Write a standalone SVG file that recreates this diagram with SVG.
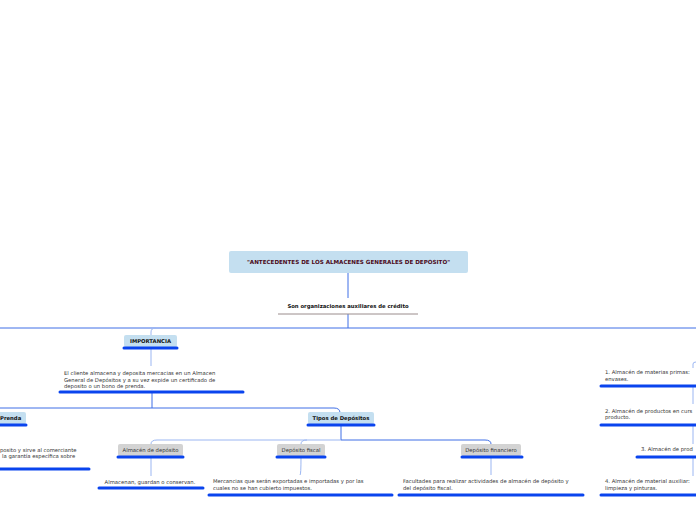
<svg xmlns="http://www.w3.org/2000/svg" width="696" height="520" viewBox="0 0 696 520">
<style>
text{font-family:"DejaVu Sans","Liberation Sans",sans-serif;font-size:5.3px;fill:#333}
.b{font-weight:bold;fill:#111}
.blue{fill:#c4dff0}
.gray{fill:#d3d3d3}
.ul{stroke:#0a44ee;stroke-width:3;stroke-linecap:round}
.c{fill:none;stroke:#3f6fe6;stroke-width:1}
.cl{fill:none;stroke:#9bb6f2;stroke-width:1}
</style>
<rect width="696" height="520" fill="#fff"/>
<g id="connectors">
<path class="c" d="M348 273V298M348 314V328M0 328H696"/>
<path class="cl" d="M151 335V332Q151 328 156 328M151 348V366"/>
<path class="c" d="M152 392V408M0 408H334Q340 408 340 413"/>
<path class="c" d="M341 425V440H485Q491 440 491 444"/>
<path class="cl" d="M341 440H157Q151 440 151 444M301 444Q301 440 307 440M151 457V476M301 457Q301 475 300 475M491 457V475"/>
<path class="cl" d="M693 368V364Q693 362 696 362M693 386V404M693 425V444M693 457V476"/>
</g>
<g id="root"><rect class="blue" x="229" y="251" width="239" height="22" rx="2"/><text class="b" x="348.5" y="264" text-anchor="middle" style="fill:#4a0a1a;font-size:5.6px">"ANTECEDENTES DE LOS ALMACENES GENERALES DE DEPOSITO"</text></g>
<g id="sub"><text class="b" x="348" y="308" text-anchor="middle">Son organizaciones auxiliares de crédito</text><line x1="278" y1="314" x2="418" y2="314" stroke="#9a8c8c" stroke-width="1"/></g>
<g id="importancia"><rect class="blue" x="124" y="335" width="53" height="12" rx="2"/><text class="b" x="150.5" y="343" text-anchor="middle">IMPORTANCIA</text><line class="ul" x1="124" y1="348" x2="177" y2="348"/></g>
<g id="imp-text"><text x="64" y="375">El cliente almacena y deposita mercacias en un Almacen</text><text x="64" y="381.5">General de Depósitos  y a su vez expide un certificado de</text><text x="64" y="388">deposito o un bono de prenda.</text><line class="ul" x1="60" y1="392" x2="243" y2="392"/></g>
<g id="prenda"><rect class="blue" x="-4" y="412" width="30" height="12" rx="2"/><text class="b" x="0" y="420">Prenda</text><line class="ul" x1="0" y1="425" x2="26" y2="425"/></g>
<g id="prenda-text"><text x="0" y="452">posito y sirve al comerciante</text><text x="2" y="458">la garantía específica sobre</text><line class="ul" x1="0" y1="469" x2="89" y2="469"/></g>
<g id="tipos"><rect class="blue" x="308" y="412" width="66" height="12" rx="2"/><text class="b" x="341" y="420">
<tspan x="341" text-anchor="middle">Tipos de Depósitos</tspan></text><line class="ul" x1="308" y1="425" x2="374" y2="425"/></g>
<g id="almacen"><rect class="gray" x="118" y="444" width="65" height="12" rx="2"/><text x="150.5" y="452" text-anchor="middle">Almacén de depósito</text><line class="ul" x1="118" y1="457" x2="183" y2="457"/></g>
<g id="almacen-text"><text x="150" y="484" text-anchor="middle">Almacenan, guardan o conservan.</text><line class="ul" x1="99" y1="488" x2="203" y2="488"/></g>
<g id="fiscal"><rect class="gray" x="277" y="444" width="48" height="12" rx="2"/><text x="301" y="452" text-anchor="middle">Depósito fiscal</text><line class="ul" x1="277" y1="457" x2="325" y2="457"/></g>
<g id="fiscal-text"><text x="213" y="483">Mercancias que serán exportadas e importadas y por las</text><text x="213" y="489.5">cuales  no se han cubierto impuestos.</text><line class="ul" x1="209" y1="495" x2="392" y2="495"/></g>
<g id="financiero"><rect class="gray" x="461" y="444" width="60" height="12" rx="2"/><text x="491" y="452" text-anchor="middle">Depósito financiero</text><line class="ul" x1="462" y1="457" x2="522" y2="457"/></g>
<g id="financiero-text"><text x="403" y="483">Facultades para realizar  actividades de almacén de depósito y</text><text x="403" y="489.5">del depósito fiscal.</text><line class="ul" x1="399" y1="495" x2="583" y2="495"/></g>
<g id="r1"><text x="605" y="374">1. Almacén de materias primas:</text><text x="605" y="380.5">envases.</text><line class="ul" x1="601" y1="386" x2="697" y2="386"/></g>
<g id="r2"><text x="605" y="412.5">2. Almacén de productos en curs</text><text x="605" y="419">producto.</text><line class="ul" x1="601" y1="425" x2="697" y2="425"/></g>
<g id="r3"><text x="641" y="451">3. Almacén de prod</text><line class="ul" x1="637" y1="457" x2="697" y2="457"/></g>
<g id="r4"><text x="605" y="483">4. Almacén de material auxiliar:</text><text x="605" y="489.5">limpieza y pinturas.</text><line class="ul" x1="601" y1="495" x2="697" y2="495"/></g>
</svg>
